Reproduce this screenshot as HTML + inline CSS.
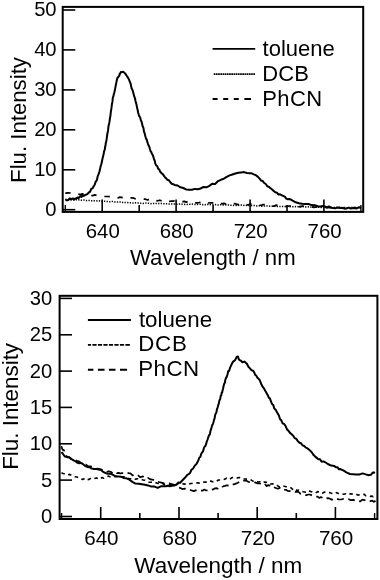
<!DOCTYPE html>
<html><head><meta charset="utf-8"><title>Fluorescence spectra</title>
<style>html,body{margin:0;padding:0;background:#fff}svg{display:block;filter:grayscale(1)}text{fill:#000}</style></head>
<body><svg width="380" height="580" viewBox="0 0 380 580">
<rect width="380" height="580" fill="#fff"/>
<rect x="62.7" y="6.9" width="300.5" height="205.0" fill="none" stroke="#000" stroke-width="2"/>
<line x1="62.7" y1="209.7" x2="75.3" y2="209.7" stroke="#000" stroke-width="1.6"/>
<text x="56.6" y="215.9" text-anchor="end" font-size="20.2" font-family="Liberation Sans, Arial, Helvetica, sans-serif">0</text>
<line x1="62.7" y1="169.8" x2="75.3" y2="169.8" stroke="#000" stroke-width="1.6"/>
<text x="56.6" y="176.0" text-anchor="end" font-size="20.2" font-family="Liberation Sans, Arial, Helvetica, sans-serif">10</text>
<line x1="62.7" y1="129.8" x2="75.3" y2="129.8" stroke="#000" stroke-width="1.6"/>
<text x="56.6" y="136.0" text-anchor="end" font-size="20.2" font-family="Liberation Sans, Arial, Helvetica, sans-serif">20</text>
<line x1="62.7" y1="89.9" x2="75.3" y2="89.9" stroke="#000" stroke-width="1.6"/>
<text x="56.6" y="96.1" text-anchor="end" font-size="20.2" font-family="Liberation Sans, Arial, Helvetica, sans-serif">30</text>
<line x1="62.7" y1="49.9" x2="75.3" y2="49.9" stroke="#000" stroke-width="1.6"/>
<text x="56.6" y="56.1" text-anchor="end" font-size="20.2" font-family="Liberation Sans, Arial, Helvetica, sans-serif">40</text>
<line x1="62.7" y1="10.0" x2="75.3" y2="10.0" stroke="#000" stroke-width="1.6"/>
<text x="56.6" y="16.2" text-anchor="end" font-size="20.2" font-family="Liberation Sans, Arial, Helvetica, sans-serif">50</text>
<line x1="102.2" y1="211.9" x2="102.2" y2="199.5" stroke="#000" stroke-width="1.6"/>
<text x="102.8" y="238.1" text-anchor="middle" font-size="20.4" font-family="Liberation Sans, Arial, Helvetica, sans-serif">640</text>
<line x1="176.1" y1="211.9" x2="176.1" y2="199.5" stroke="#000" stroke-width="1.6"/>
<text x="176.7" y="238.1" text-anchor="middle" font-size="20.4" font-family="Liberation Sans, Arial, Helvetica, sans-serif">680</text>
<line x1="250.1" y1="211.9" x2="250.1" y2="199.5" stroke="#000" stroke-width="1.6"/>
<text x="250.7" y="238.1" text-anchor="middle" font-size="20.4" font-family="Liberation Sans, Arial, Helvetica, sans-serif">720</text>
<line x1="323.9" y1="211.9" x2="323.9" y2="199.5" stroke="#000" stroke-width="1.6"/>
<text x="324.6" y="238.1" text-anchor="middle" font-size="20.4" font-family="Liberation Sans, Arial, Helvetica, sans-serif">760</text>
<line x1="139.2" y1="211.9" x2="139.2" y2="205" stroke="#000" stroke-width="1.6"/>
<line x1="213.1" y1="211.9" x2="213.1" y2="205" stroke="#000" stroke-width="1.6"/>
<line x1="287.0" y1="211.9" x2="287.0" y2="205" stroke="#000" stroke-width="1.6"/>
<line x1="65.3" y1="211.9" x2="65.3" y2="205" stroke="#000" stroke-width="1.4"/>
<line x1="360.9" y1="211.9" x2="360.9" y2="205" stroke="#000" stroke-width="1.4"/>
<text x="212.8" y="264.8" text-anchor="middle" font-size="22.2" font-family="Liberation Sans, Arial, Helvetica, sans-serif">Wavelength / nm</text>
<text transform="translate(26,120) rotate(-90)" text-anchor="middle" font-size="22.2" font-family="Liberation Sans, Arial, Helvetica, sans-serif">Flu. Intensity</text>
<polyline points="65.3,199.2 67.5,199.5 69.6,199.5 71.8,199.8 74.0,199.9 76.1,199.6 78.3,199.7 80.5,200.3 82.7,200.1 84.8,200.1 87.0,200.7 89.2,200.5 91.5,200.8 93.7,200.7 96.0,200.9 98.3,200.7 100.7,201.2 103.0,201.4 105.3,201.3 107.7,201.6 110.2,201.7 112.6,201.4 115.0,202.0 117.0,202.0 119.0,201.9 121.0,201.9 123.0,202.5 125.0,202.4 127.0,202.6 129.0,202.8 131.0,202.8 133.0,203.0 135.0,202.8 137.0,203.1 139.0,203.0 141.0,203.3 143.0,203.4 145.0,203.0 147.0,203.1 149.0,203.2 151.0,203.7 153.0,203.4 155.0,203.6 157.0,203.4 159.0,203.6 161.0,203.6 163.0,203.6 165.0,203.8 167.0,203.8 169.0,204.0 171.0,203.9 173.0,204.1 175.0,204.1 177.0,204.2 179.0,204.1 181.0,203.8 183.0,204.3 185.0,204.4 187.0,204.4 189.0,204.2 191.0,204.3 193.0,204.1 195.0,204.5 197.0,204.4 199.0,204.3 201.0,204.2 203.0,204.7 205.0,204.8 207.0,204.3 209.0,204.8 211.0,204.6 213.0,204.5 215.0,204.6 217.0,204.9 219.0,205.0 221.0,204.6 223.0,205.0 225.0,204.7 227.0,205.1 229.0,205.0 231.0,205.3 233.0,205.4 235.0,205.2 237.0,205.6 239.0,205.2 241.0,205.1 243.0,205.5 245.0,205.2 247.0,205.4 249.0,205.5 251.0,205.7 253.0,205.5 255.0,205.5 257.0,206.0 259.0,205.7 261.0,206.2 263.0,206.2 265.0,205.9 267.0,206.0 269.0,206.1 271.0,206.2 273.0,206.2 275.0,206.3 277.0,206.4 279.0,206.6 281.0,206.4 283.0,206.4 285.0,206.6 287.0,206.3 289.0,206.4 291.0,206.9 293.0,206.7 295.0,206.7 297.0,206.4 299.0,206.7 301.0,206.9 303.0,206.6 305.0,207.0 307.0,207.0 309.0,206.7 311.0,207.1 313.0,207.0 315.0,207.2 317.0,207.1 319.0,207.3 321.0,207.4 323.0,207.0 325.0,207.0 327.2,207.4 329.4,207.7 331.6,207.3 333.8,207.4 336.4,207.6 338.9,207.5 341.4,207.5 343.6,207.6 345.7,207.6 347.9,207.8 350.5,207.7 353.1,207.8 357.1,208.1 359.7,207.7 361.0,208.0" fill="none" stroke="#000" stroke-width="1.5" stroke-linejoin="round" stroke-dasharray="1.3 1.3"/>
<polyline points="65.3,192.9 66.2,193.2 68.1,192.8 70.8,193.0 72.7,194.0 74.5,193.4 76.4,193.5 78.3,194.0 80.3,194.5 82.3,193.9 84.3,194.3 86.4,194.5 88.5,195.4 90.6,195.0 92.6,195.7 94.6,194.9 96.4,195.3 98.2,196.0 101.5,196.7 104.5,196.5 107.7,196.5 111.0,196.7 112.7,197.3 114.4,197.0 116.2,197.9 118.1,198.0 119.8,197.1 121.6,197.4 123.4,198.2 125.1,198.1 126.8,198.4 128.6,197.9 131.9,197.8 133.9,198.2 135.9,199.0 138.2,198.5 140.5,198.7 142.2,198.9 143.9,199.1 145.6,199.2 147.5,200.0 149.5,199.1 151.4,199.0 153.4,200.5 155.5,200.5 157.6,200.8 159.8,200.2 162.0,201.0 164.2,201.1 166.0,200.2 167.7,201.1 169.5,201.3 171.2,201.2 173.1,201.1 175.0,200.9 176.9,201.0 178.8,201.0 180.6,200.9 182.5,201.7 184.4,201.4 186.2,202.2 188.1,201.2 190.0,202.5 191.9,202.3 193.8,202.7 195.6,202.8 197.5,202.8 199.4,202.5 201.2,201.8 203.1,202.9 205.0,202.1 206.9,202.4 208.8,203.0 210.6,202.9 212.5,202.8 214.4,203.6 216.2,203.2 218.1,202.9 220.0,202.9 221.9,203.8 223.8,203.4 225.6,203.9 227.5,203.3 229.4,203.2 231.2,203.8 233.1,204.3 235.0,203.4 236.9,204.4 238.8,204.7 240.6,204.6 242.5,204.7 244.4,203.6 246.2,204.6 248.1,205.0 250.0,204.0 251.9,204.4 253.8,204.4 255.6,204.9 257.5,204.8 259.4,205.0 261.2,205.5 263.1,204.5 265.0,204.6 266.9,204.8 268.8,204.9 270.6,204.9 272.5,206.2 274.4,206.1 276.2,205.1 278.1,205.8 280.0,205.6 281.9,205.7 283.8,205.8 285.6,206.3 287.5,206.3 289.4,206.0 291.2,205.8 293.1,206.1 295.0,205.9 296.9,206.5 298.8,206.8 300.6,206.4 302.5,206.1 304.4,206.3 306.2,206.6 308.1,207.0 310.0,207.3 311.9,206.8 313.8,207.4 315.6,207.2 317.5,207.0 319.4,207.0 321.2,207.2 323.1,207.5 325.0,207.2 326.9,207.6 328.8,207.3 330.5,207.1 332.2,207.5 334.0,207.8 335.7,207.0 337.8,207.5 339.9,207.6 342.1,208.2 344.0,208.4 345.9,207.6 347.9,208.4 349.6,208.2 351.4,207.5 353.1,207.8 355.1,207.4 357.1,208.4 359.7,208.2 361.0,208.0" fill="none" stroke="#000" stroke-width="1.7" stroke-linejoin="round" stroke-dasharray="5.5 8"/>
<polyline points="65.3,200.3 65.8,200.2 66.9,200.3 67.9,200.2 69.0,199.2 70.0,198.3 71.1,199.6 72.1,198.7 73.2,198.5 74.2,199.5 75.3,198.4 76.3,198.3 77.4,197.6 78.4,198.4 79.5,196.9 80.5,196.1 81.6,196.9 82.6,195.1 83.7,195.9 84.8,195.1 85.9,194.8 87.2,194.2 88.7,192.6 90.1,191.6 91.3,188.8 92.5,188.4 93.7,186.3 94.7,184.7 95.7,181.6 96.3,181.1 97.0,179.8 97.7,176.1 98.5,174.4 99.0,172.9 99.5,171.5 100.1,168.7 100.5,166.9 100.9,165.3 101.3,164.3 101.7,162.8 102.1,160.5 102.5,158.8 102.9,157.1 103.3,155.4 103.7,153.8 104.0,151.5 104.4,150.6 104.8,149.7 105.1,146.9 105.5,145.6 105.8,142.8 106.2,141.8 106.5,139.9 106.8,137.8 107.1,135.5 107.4,133.5 107.8,131.7 108.1,130.2 108.4,126.9 108.8,124.8 109.1,123.9 109.4,122.2 109.8,119.5 110.1,117.4 110.4,116.0 110.7,113.2 110.9,111.5 111.2,109.5 111.4,108.4 111.7,106.2 111.9,104.3 112.1,103.3 112.5,101.4 112.8,97.8 113.5,95.9 113.9,93.7 114.3,92.8 114.8,90.4 115.3,87.9 115.7,85.8 116.1,83.6 116.4,82.4 116.8,80.3 117.4,77.7 118.0,77.5 118.6,76.4 119.3,75.8 119.8,73.4 120.2,73.6 120.9,71.9 122.0,71.9 123.1,71.7 124.4,72.8 125.5,73.9 126.5,75.5 127.7,77.2 128.9,79.3 130.1,82.3 130.6,83.5 131.1,86.0 131.6,88.2 132.1,89.2 132.6,90.4 133.1,92.1 134.1,95.9 135.0,98.5 135.5,101.0 136.0,102.9 136.3,103.8 136.7,105.6 137.0,107.6 137.6,109.7 138.2,112.8 138.8,114.8 139.5,116.5 140.2,117.4 140.9,120.4 141.6,121.8 142.2,124.3 142.7,126.5 143.1,127.1 143.6,128.8 144.0,131.8 144.5,132.7 144.9,134.6 145.5,136.7 146.0,138.7 146.6,139.3 147.3,141.7 147.9,143.6 148.6,145.5 149.3,146.7 149.9,149.0 150.6,151.3 151.3,151.9 151.9,153.8 152.6,154.6 153.4,156.9 154.1,159.6 154.7,160.4 155.2,163.4 156.2,165.4 157.2,166.0 158.2,168.9 159.2,169.4 160.1,171.5 161.6,173.3 163.0,174.4 164.5,176.6 166.0,178.2 167.4,179.8 168.9,180.3 170.3,182.3 171.7,183.8 173.2,184.2 174.6,184.9 177.6,185.5 180.4,187.3 183.3,188.0 186.1,189.4 189.1,189.8 191.9,189.7 194.9,188.9 197.8,189.3 200.6,188.5 203.5,186.9 206.5,187.3 209.4,185.9 212.2,183.8 215.1,183.9 218.1,181.1 220.9,179.8 223.9,178.7 226.7,176.9 229.6,175.4 232.4,174.5 235.4,173.5 238.3,172.8 241.1,172.4 244.0,172.1 247.0,173.0 249.5,173.2 251.7,173.3 253.7,174.4 255.6,175.0 258.0,176.9 259.6,178.6 261.1,180.8 262.6,180.8 264.2,183.0 265.8,184.0 267.3,186.3 268.9,186.9 270.5,188.2 272.1,189.5 273.7,190.9 275.3,192.3 276.9,192.7 278.5,194.5 280.0,194.2 281.6,195.3 283.2,195.9 284.8,196.7 286.3,198.6 287.9,199.2 289.5,199.0 291.0,199.7 292.6,200.7 295.8,202.3 298.9,203.2 302.1,203.7 305.2,204.1 308.4,204.0 311.6,205.1 314.8,205.3 317.9,206.2 320.3,206.5 322.6,206.1 324.7,206.4 326.8,207.5 328.9,206.4 331.0,207.8 333.1,208.1 335.2,208.3 337.3,207.4 339.4,207.8 341.5,207.9 343.3,208.0 345.1,208.7 347.0,208.2 348.8,207.6 350.8,208.6 352.9,208.0 354.9,208.2 356.9,208.4 359.0,207.2 361.0,208.1" fill="none" stroke="#000" stroke-width="2.0" stroke-linejoin="round"/>
<line x1="212.6" y1="48.9" x2="255.2" y2="48.9" stroke="#000" stroke-width="1.9"/>
<line x1="213.7" y1="74.2" x2="255.2" y2="74.2" stroke="#000" stroke-width="1.7" stroke-dasharray="1.7 0.5"/>
<line x1="212.6" y1="99" x2="251" y2="99" stroke="#000" stroke-width="1.9" stroke-dasharray="5 5.6 5 5.6 5 5.6 6.6 99"/>
<text x="262.6" y="55.6" font-size="22" font-family="Liberation Sans, Arial, Helvetica, sans-serif">toluene</text>
<text x="262.3" y="81" font-size="22" letter-spacing="0.15" font-family="Liberation Sans, Arial, Helvetica, sans-serif">DCB</text>
<text x="262.3" y="105.8" font-size="22" letter-spacing="0.35" font-family="Liberation Sans, Arial, Helvetica, sans-serif">PhCN</text>
<rect x="59.6" y="295.8" width="317.79999999999995" height="223.2" fill="none" stroke="#000" stroke-width="2"/>
<line x1="59.6" y1="516.5" x2="72" y2="516.5" stroke="#000" stroke-width="1.6"/>
<text x="52.3" y="523.1" text-anchor="end" font-size="20.2" font-family="Liberation Sans, Arial, Helvetica, sans-serif">0</text>
<line x1="59.6" y1="480.1" x2="72" y2="480.1" stroke="#000" stroke-width="1.6"/>
<text x="52.3" y="486.8" text-anchor="end" font-size="20.2" font-family="Liberation Sans, Arial, Helvetica, sans-serif">5</text>
<line x1="59.6" y1="443.8" x2="72" y2="443.8" stroke="#000" stroke-width="1.6"/>
<text x="52.3" y="450.4" text-anchor="end" font-size="20.2" font-family="Liberation Sans, Arial, Helvetica, sans-serif">10</text>
<line x1="59.6" y1="407.4" x2="72" y2="407.4" stroke="#000" stroke-width="1.6"/>
<text x="52.3" y="414.1" text-anchor="end" font-size="20.2" font-family="Liberation Sans, Arial, Helvetica, sans-serif">15</text>
<line x1="59.6" y1="371.1" x2="72" y2="371.1" stroke="#000" stroke-width="1.6"/>
<text x="52.3" y="377.7" text-anchor="end" font-size="20.2" font-family="Liberation Sans, Arial, Helvetica, sans-serif">20</text>
<line x1="59.6" y1="334.8" x2="72" y2="334.8" stroke="#000" stroke-width="1.6"/>
<text x="52.3" y="341.4" text-anchor="end" font-size="20.2" font-family="Liberation Sans, Arial, Helvetica, sans-serif">25</text>
<line x1="59.6" y1="298.4" x2="72" y2="298.4" stroke="#000" stroke-width="1.6"/>
<text x="52.3" y="305.0" text-anchor="end" font-size="20.2" font-family="Liberation Sans, Arial, Helvetica, sans-serif">30</text>
<line x1="100.7" y1="519.0" x2="100.7" y2="507" stroke="#000" stroke-width="1.6"/>
<text x="101.4" y="545.4" text-anchor="middle" font-size="20.6" font-family="Liberation Sans, Arial, Helvetica, sans-serif">640</text>
<line x1="179.0" y1="519.0" x2="179.0" y2="507" stroke="#000" stroke-width="1.6"/>
<text x="179.7" y="545.4" text-anchor="middle" font-size="20.6" font-family="Liberation Sans, Arial, Helvetica, sans-serif">680</text>
<line x1="257.2" y1="519.0" x2="257.2" y2="507" stroke="#000" stroke-width="1.6"/>
<text x="257.9" y="545.4" text-anchor="middle" font-size="20.6" font-family="Liberation Sans, Arial, Helvetica, sans-serif">720</text>
<line x1="335.4" y1="519.0" x2="335.4" y2="507" stroke="#000" stroke-width="1.6"/>
<text x="336.1" y="545.4" text-anchor="middle" font-size="20.6" font-family="Liberation Sans, Arial, Helvetica, sans-serif">760</text>
<line x1="139.8" y1="519.0" x2="139.8" y2="513" stroke="#000" stroke-width="1.6"/>
<line x1="218.1" y1="519.0" x2="218.1" y2="513" stroke="#000" stroke-width="1.6"/>
<line x1="296.3" y1="519.0" x2="296.3" y2="513" stroke="#000" stroke-width="1.6"/>
<line x1="61.6" y1="519.0" x2="61.6" y2="513" stroke="#000" stroke-width="1.4"/>
<line x1="374.6" y1="519.0" x2="374.6" y2="513" stroke="#000" stroke-width="1.4"/>
<text x="218.3" y="573.3" text-anchor="middle" font-size="22.5" font-family="Liberation Sans, Arial, Helvetica, sans-serif">Wavelength / nm</text>
<text transform="translate(17.7,406.4) rotate(-90)" text-anchor="middle" font-size="22.4" font-family="Liberation Sans, Arial, Helvetica, sans-serif">Flu. Intensity</text>
<polyline points="61.4,473.3 61.7,473.2 62.3,473.1 63.1,473.5 64.3,473.8 65.8,473.7 67.6,474.9 69.8,474.4 72.2,475.9 74.6,476.8 76.9,477.0 79.0,477.8 81.0,479.1 83.0,479.4 85.0,478.2 87.0,479.7 89.0,479.4 90.9,478.2 92.8,478.8 94.6,478.4 96.4,477.9 98.2,478.6 100.0,479.1 101.8,477.6 103.7,478.3 105.8,477.6 108.2,476.1 110.8,477.2 113.7,476.3 116.6,476.8 119.5,476.5 122.5,476.9 125.5,476.7 127.1,478.0 128.7,478.6 130.4,478.8 132.1,478.3 133.8,479.3 135.6,479.1 137.5,478.7 139.4,479.0 141.2,479.4 143.1,480.0 145.0,480.3 146.9,481.4 148.8,482.1 150.6,482.2 152.5,482.3 154.4,483.2 156.2,482.8 158.0,483.5 159.8,484.3 161.5,483.9 163.2,483.7 164.9,485.4 166.5,485.2 168.1,484.7 171.0,484.8 173.6,485.1 175.8,485.0 177.7,483.8 179.8,483.0 182.0,483.2 184.4,484.3 187.1,483.1 189.8,483.8 192.8,483.2 195.9,483.0 197.5,482.8 199.1,483.1 200.8,482.5 202.4,482.1 204.1,482.1 205.7,482.0 207.4,482.5 209.0,481.4 210.7,481.1 212.4,481.8 214.0,481.5 215.5,481.8 218.5,480.0 221.3,480.1 224.0,479.5 226.6,478.2 229.2,479.6 231.8,477.7 234.5,477.2 237.1,477.9 239.7,477.5 242.4,478.9 245.0,479.0 247.7,479.1 250.3,479.5 252.9,481.2 255.6,480.7 258.0,482.0 260.3,481.7 262.5,483.0 264.4,482.0 266.2,482.2 267.9,482.6 269.3,484.0 270.7,484.0 272.8,483.9 275.8,484.2 277.8,485.9 279.7,486.9 281.3,486.6 282.9,485.8 284.5,486.3 286.1,486.7 287.6,487.3 289.2,487.4 290.8,487.7 292.4,489.2 294.0,490.1 295.5,489.0 297.1,490.8 298.7,490.1 301.1,491.1 303.4,491.7 305.8,492.1 308.1,490.6 310.5,491.4 312.9,492.2 315.3,493.1 317.6,491.6 320.0,492.1 322.4,493.3 324.7,492.0 327.1,492.6 329.5,492.6 331.9,493.4 334.2,494.0 336.6,492.6 338.9,493.8 341.3,493.9 343.7,494.2 346.0,493.8 348.4,494.7 350.8,493.7 353.2,494.0 355.5,493.8 357.9,495.1 360.3,494.7 362.3,494.4 364.3,494.4 365.9,495.8 367.5,495.7 370.1,496.4 371.8,496.1 373.2,496.7 374.1,496.2 374.5,497.0" fill="none" stroke="#000" stroke-width="1.6" stroke-linejoin="round" stroke-dasharray="3.6 3.6"/>
<polyline points="61.4,447.9 61.6,446.8 61.9,448.1 62.4,449.3 63.0,450.0 63.7,449.9 64.3,451.2 64.9,453.6 65.6,454.4 66.5,456.0 67.6,457.1 69.1,457.1 70.8,458.9 72.7,459.4 74.7,459.6 76.9,460.8 79.1,461.4 81.4,463.1 83.8,465.3 86.0,464.6 88.3,466.4 90.7,466.3 92.9,467.0 95.2,468.9 97.6,468.7 99.9,469.0 102.1,469.8 104.4,471.4 106.8,471.9 109.0,471.2 111.1,472.0 113.1,473.8 115.1,472.4 116.9,473.2 118.7,472.9 120.4,473.5 122.1,473.0 123.7,473.4 125.3,473.1 126.9,472.7 128.6,473.1 130.4,473.4 132.6,475.4 135.0,474.5 137.6,474.8 140.3,477.3 142.9,476.4 145.5,478.6 148.1,477.9 150.7,479.4 153.3,479.8 156.0,481.7 158.6,482.0 161.3,482.6 163.9,483.4 166.5,484.0 169.1,483.2 171.5,484.2 173.8,484.6 175.8,484.8 177.7,487.3 179.8,487.8 182.3,489.1 185.0,488.6 187.9,489.9 190.9,490.2 193.8,491.1 196.8,490.0 199.6,490.5 202.7,490.6 204.4,489.6 206.0,490.4 207.8,490.5 209.5,489.7 211.4,489.8 213.2,489.4 215.0,488.3 216.8,488.2 218.5,489.1 220.2,487.4 221.9,487.2 223.6,486.1 225.2,485.9 226.9,485.3 229.9,486.0 232.7,484.6 235.2,483.9 237.5,483.0 239.8,481.5 241.9,481.7 244.0,480.7 246.0,480.5 248.3,481.8 250.9,482.2 253.9,482.9 255.5,482.4 257.1,483.3 259.9,483.3 262.2,485.1 264.0,485.4 265.4,484.5 266.7,486.2 268.0,485.1 269.3,485.4 270.7,487.1 272.8,486.9 275.8,488.0 277.8,488.7 279.7,487.9 281.3,489.6 282.9,489.0 284.5,489.6 286.1,489.8 287.6,490.9 289.2,491.2 290.8,490.6 292.4,490.6 294.0,491.3 295.5,491.9 297.1,491.6 298.7,492.0 300.3,493.6 301.8,493.8 303.4,494.7 305.0,495.1 306.6,495.2 308.1,494.5 309.7,494.5 311.3,495.1 312.9,495.7 314.5,496.2 316.0,496.6 317.6,496.6 319.2,497.9 320.8,497.1 322.4,497.8 324.0,498.9 325.5,499.0 327.1,498.2 329.5,498.4 331.9,499.8 334.2,498.3 336.6,498.7 338.9,499.5 341.3,499.5 343.7,498.8 346.0,498.6 348.4,499.0 350.8,500.2 353.2,499.8 355.5,501.0 357.9,500.8 360.3,501.4 362.3,499.7 364.3,500.1 366.0,500.0 367.7,501.0 370.4,501.1 372.3,500.7 373.8,501.9 374.8,501.1 375.3,502.0" fill="none" stroke="#000" stroke-width="1.7" stroke-linejoin="round" stroke-dasharray="7 4.5"/>
<polyline points="61.4,452.1 62.5,453.2 64.8,456.5 66.3,456.7 67.8,457.3 69.7,457.6 71.6,459.1 73.6,460.4 75.7,461.4 77.2,462.6 78.8,463.2 80.3,462.9 82.6,463.7 84.9,465.9 87.2,466.9 89.5,467.2 91.8,468.6 94.1,468.9 96.4,469.1 98.7,469.6 101.0,470.0 103.3,471.9 105.6,473.1 107.9,473.8 110.2,473.6 112.5,474.7 114.8,475.9 117.2,476.3 119.0,476.5 120.9,476.7 123.6,477.9 126.5,478.3 129.4,479.7 132.4,481.9 135.5,483.6 138.7,483.7 141.8,484.2 145.0,484.7 148.1,485.4 151.3,486.6 154.5,486.6 157.7,487.9 160.8,486.3 164.2,486.3 165.9,486.3 167.7,485.8 169.8,486.2 171.9,485.7 174.2,485.5 176.6,484.4 178.4,482.5 180.2,482.7 182.5,480.3 184.9,477.8 187.2,475.0 188.6,474.2 190.0,473.0 191.6,469.5 193.1,468.6 194.2,466.5 195.2,465.2 196.3,464.3 197.3,462.6 198.4,460.2 199.4,457.5 200.3,457.0 201.3,453.8 202.2,452.3 203.0,451.3 203.8,448.5 204.6,446.5 205.3,446.1 206.0,444.4 206.8,441.5 207.4,440.0 208.0,438.2 208.6,436.4 209.2,434.9 209.8,434.6 210.4,431.2 210.9,429.6 211.5,427.7 212.0,425.7 212.5,424.8 213.0,423.6 213.5,422.1 214.0,420.0 214.6,418.4 215.2,414.9 215.8,413.4 216.4,412.7 216.9,409.4 217.4,408.1 217.8,406.8 218.3,404.8 218.8,403.6 219.3,400.9 219.8,399.6 220.2,399.2 220.7,395.9 221.2,395.6 221.7,392.6 222.2,392.5 222.6,390.2 223.1,388.5 223.6,385.9 224.2,383.7 224.8,383.1 225.3,380.0 225.9,378.1 226.7,376.9 227.5,374.5 228.2,371.2 229.1,370.9 230.1,367.7 231.5,364.6 232.4,362.6 233.3,361.5 235.1,360.1 236.8,356.8 238.0,356.6 238.7,359.0 239.6,360.1 240.9,360.7 242.4,362.3 244.4,361.6 246.9,363.8 248.4,366.8 250.0,368.4 251.6,370.3 253.2,370.7 254.2,372.4 255.3,375.0 256.3,375.6 257.4,377.7 258.4,378.6 259.5,379.7 260.5,382.2 261.6,384.8 262.6,386.7 263.7,388.1 264.7,389.8 265.8,391.7 266.8,393.4 267.9,395.4 268.9,397.9 269.9,398.4 270.8,400.8 271.7,403.2 272.5,404.6 273.3,404.9 274.1,408.0 274.9,409.3 275.7,409.6 276.5,411.3 277.6,413.4 278.8,415.3 280.1,419.2 281.3,420.3 282.6,423.3 284.0,423.9 285.4,425.6 286.9,429.2 288.5,430.8 290.0,432.9 291.6,434.2 293.2,435.7 294.8,438.2 296.3,438.9 297.9,441.3 299.5,442.7 301.0,443.3 302.6,445.3 304.2,446.0 305.8,447.5 307.4,448.4 308.9,449.5 310.5,450.9 312.1,452.8 313.6,455.1 315.2,456.6 316.8,457.9 318.4,459.2 320.0,459.3 321.6,461.8 323.2,461.4 324.8,462.0 327.9,464.0 331.1,465.6 334.2,465.9 335.8,467.2 337.4,467.2 339.0,469.3 340.5,469.1 342.1,469.9 343.7,470.7 346.8,472.6 350.0,474.0 353.1,474.2 356.3,474.4 359.4,474.5 362.6,473.4 365.8,474.4 368.6,475.2 370.9,474.8 372.7,472.6 373.9,472.9 374.5,471.6" fill="none" stroke="#000" stroke-width="2.0" stroke-linejoin="round"/>
<line x1="87.9" y1="320" x2="130.9" y2="320" stroke="#000" stroke-width="1.9"/>
<line x1="87.9" y1="344.8" x2="130.2" y2="344.8" stroke="#000" stroke-width="1.8" stroke-dasharray="3.2 1.3 4.2 1.3 4.2 1.3 4.2 1.3 4.2 1.3 4.2 1.3 4.2 1.3 4.5 99"/>
<line x1="87.9" y1="369.8" x2="127.1" y2="369.8" stroke="#000" stroke-width="1.9" stroke-dasharray="5.5 4.5 6.6 4.4 6.6 4.5 7.1 99"/>
<text x="138.9" y="327.4" font-size="22.3" font-family="Liberation Sans, Arial, Helvetica, sans-serif">toluene</text>
<text x="138.3" y="351.3" font-size="22.3" letter-spacing="0.7" font-family="Liberation Sans, Arial, Helvetica, sans-serif">DCB</text>
<text x="138.3" y="376.2" font-size="22.3" letter-spacing="0.45" font-family="Liberation Sans, Arial, Helvetica, sans-serif">PhCN</text>
</svg></body></html>
